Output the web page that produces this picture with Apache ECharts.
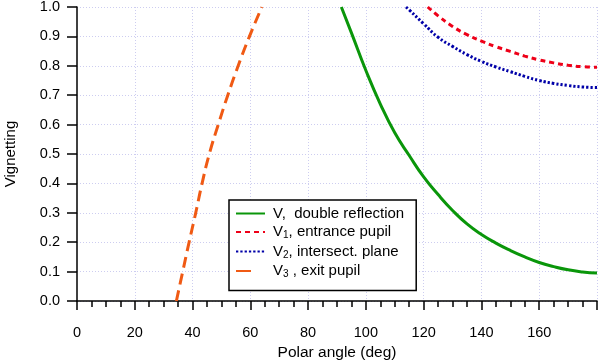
<!DOCTYPE html>
<html>
<head>
<meta charset="utf-8">
<script src="https://cdn.jsdelivr.net/npm/echarts@6/dist/echarts.min.js"></script>
<style>
  html, body { margin: 0; padding: 0; background: #fff; }
  #main { width: 600px; height: 362px; }
</style>
</head>
<body>
<div id="main"></div>
<script>
var FONT = 'Liberation Sans';

// V, double reflection
var vX = [91.5, 95, 100, 105, 110, 115, 120, 125, 130, 135, 140, 145, 150, 155, 160, 165, 170, 175, 180];
var vY = [1.0, 0.912, 0.784, 0.67, 0.572, 0.495, 0.422, 0.362, 0.308, 0.262, 0.226, 0.197, 0.172, 0.15, 0.131, 0.117, 0.106, 0.099, 0.095];
// V1, entrance pupil
var v1X = [121.4, 125, 130, 135, 140, 145, 150, 155, 160, 165, 170, 175, 180];
var v1Y = [1.0, 0.97, 0.934, 0.906, 0.884, 0.865, 0.849, 0.833, 0.82, 0.81, 0.802, 0.797, 0.795];
// V2, intersect. plane
var v2X = [113.9, 115, 120, 125, 130, 135, 140, 145, 150, 155, 160, 165, 170, 175, 180];
var v2Y = [1.0, 0.99, 0.943, 0.897, 0.866, 0.838, 0.815, 0.796, 0.78, 0.764, 0.75, 0.74, 0.733, 0.728, 0.726];
// V3, exit pupil
var v3X = [34.4, 36.6, 38.8, 41.1, 43.3, 45.8, 48.9, 52.2, 55.8, 59.7, 64.0];
var v3Y = [0.0, 0.1, 0.2, 0.3, 0.4, 0.5, 0.6, 0.7, 0.8, 0.9, 1.0];

var seriesNames = ['V', 'V1', 'V2', 'V3'];
var legendLabels = {
  'V': '{n|V,  double reflection}',
  'V1': '{n|V}{s|1}{n|, entrance pupil}',
  'V2': '{n|V}{s|2}{n|, intersect. plane}',
  'V3': '{n|V}{s|3}{n| , exit pupil}'
};

function pairs(xs, ys) {
  return xs.map(function (x, i) { return [x, ys[i]]; });
}

var gridStyle = { color: '#cdcdf0', width: 1, type: [1, 2] };

var chart = echarts.init(document.getElementById('main'));
var option = {
  backgroundColor: '#fff',
  animation: false,
  textStyle: { fontFamily: FONT },
  grid: { left: 77, right: 3, top: 7, bottom: 61, outerBoundsMode: 'none', containLabel: false },
  legend: {
    data: seriesNames.map(function (n) {
      // the exit-pupil key shows a single long dash
      return n === 'V3' ? { name: n, lineStyle: { type: [15, 30] } } : { name: n };
    }),
    orient: 'vertical',
    left: 229,
    top: 200,
    backgroundColor: '#fff',
    borderColor: '#000',
    borderWidth: 1.5,
    borderRadius: 0,
    padding: [6, 12, 11, 6],
    itemWidth: 29,
    itemHeight: 16,
    itemGap: 3.5,
    itemStyle: { opacity: 0 },
    formatter: function (name) { return legendLabels[name]; },
    textStyle: {
      padding: [0, 0, 0, 3],
      rich: {
        n: { fontFamily: FONT, fontSize: 15, color: '#000', lineHeight: 16 },
        s: { fontFamily: FONT, fontSize: 10, color: '#000', padding: [7, 0, 0, 0] }
      }
    }
  },
  xAxis: {
    type: 'value',
    min: 0,
    max: 180,
    interval: 20,
    offset: 2,
    name: 'Polar angle (deg)',
    nameLocation: 'middle',
    nameGap: 36,
    nameTextStyle: { fontFamily: FONT, fontSize: 15.5, color: '#000' },
    axisLine: { show: true, lineStyle: { color: '#000', width: 1.5 } },
    axisTick: { show: true, length: 9, lineStyle: { color: '#000', width: 1.5 } },
    minorTick: { show: true, splitNumber: 4, length: 6, lineStyle: { color: '#000', width: 1.5 } },
    axisLabel: { showMaxLabel: false, margin: 22, fontFamily: FONT, fontSize: 14.5, color: '#000' },
    splitLine: { show: true, showMinLine: false, lineStyle: gridStyle }
  },
  yAxis: {
    type: 'value',
    min: 0,
    max: 1,
    interval: 0.1,
    offset: 4,
    name: 'Vignetting',
    nameLocation: 'middle',
    nameGap: 55,
    nameTextStyle: { fontFamily: FONT, fontSize: 15, color: '#000' },
    axisLine: { show: true, lineStyle: { color: '#000', width: 1.5 } },
    axisTick: { show: true, length: 10, lineStyle: { color: '#000', width: 1.5 } },
    axisLabel: {
      margin: 13, fontFamily: FONT, fontSize: 14.5, color: '#000',
      formatter: function (v) { return v.toFixed(1); }
    },
    splitLine: { show: true, lineStyle: gridStyle }
  },
  series: [
    {
      name: 'V', type: 'line', smooth: true, symbol: 'none',
      data: pairs(vX, vY),
      lineStyle: { color: '#0a960a', width: 3 },
      itemStyle: { color: '#0a960a' }
    },
    {
      name: 'V1', type: 'line', smooth: true, symbol: 'none',
      data: pairs(v1X, v1Y),
      lineStyle: { color: '#ee0018', width: 3, type: [5, 4] },
      itemStyle: { color: '#ee0018' }
    },
    {
      name: 'V2', type: 'line', smooth: true, symbol: 'none',
      data: pairs(v2X, v2Y),
      lineStyle: { color: '#0000a8', width: 3, type: [2.3, 2] },
      itemStyle: { color: '#0000a8' }
    },
    {
      name: 'V3', type: 'line', smooth: true, symbol: 'none',
      data: pairs(v3X, v3Y),
      lineStyle: { color: '#f05a14', width: 3, type: [11, 6] },
      itemStyle: { color: '#f05a14' }
    }
  ]
};
chart.setOption(option);
</script>
</body>
</html>
